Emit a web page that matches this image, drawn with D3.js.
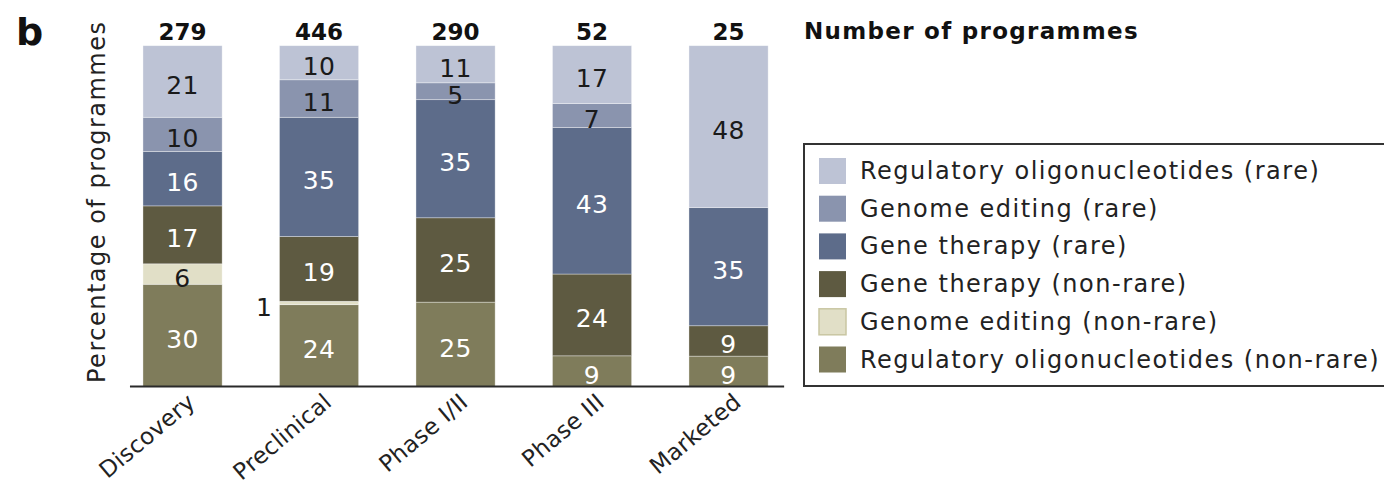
<!DOCTYPE html>
<html>
<head>
<meta charset="utf-8">
<script src="https://cdn.jsdelivr.net/npm/d3@7"></script>
<style>
  body { margin: 0; background: #fff; }
  svg { display: block; }
  text { font-family: "DejaVu Sans", sans-serif; }
</style>
</head>
<body>
<svg id="chart" width="1384" height="491"></svg>
<script>
// Development stages and total programme counts
const stages = ["Discovery", "Preclinical", "Phase I/II", "Phase III", "Marketed"];
const totals = [279, 446, 290, 52, 25];

// Percentage of programmes per modality (stacked bottom to top)
const regOligoNonRare      = [30, 24, 25, 9, 9];
const genomeEditingNonRare = [6, 1, 0, 0, 0];
const geneTherapyNonRare   = [17, 19, 25, 24, 9];
const geneTherapyRare      = [16, 35, 35, 43, 35];
const genomeEditingRare    = [10, 11, 5, 7, 0];
const regOligoRare         = [21, 10, 11, 17, 48];

const seriesKeys = ["regOligoNonRare", "genomeEditingNonRare", "geneTherapyNonRare",
                    "geneTherapyRare", "genomeEditingRare", "regOligoRare"];
const seriesLabels = {
  regOligoRare: "Regulatory oligonucleotides (rare)",
  genomeEditingRare: "Genome editing (rare)",
  geneTherapyRare: "Gene therapy (rare)",
  geneTherapyNonRare: "Gene therapy (non-rare)",
  genomeEditingNonRare: "Genome editing (non-rare)",
  regOligoNonRare: "Regulatory oligonucleotides (non-rare)"
};
const seriesValues = { regOligoNonRare, genomeEditingNonRare, geneTherapyNonRare,
                       geneTherapyRare, genomeEditingRare, regOligoRare };

const colors = {
  regOligoRare: "#bdc3d5",
  genomeEditingRare: "#8a94ae",
  geneTherapyRare: "#5d6c8a",
  geneTherapyNonRare: "#5e5a41",
  genomeEditingNonRare: "#e1dfc7",
  regOligoNonRare: "#7f7c5b"
};
const darkText = new Set(["regOligoRare", "genomeEditingRare", "genomeEditingNonRare"]);

const rows = stages.map((stage, i) => {
  const r = { stage };
  seriesKeys.forEach(k => { r[k] = seriesValues[k][i]; });
  return r;
});

const stacked = d3.stack().keys(seriesKeys).offset(d3.stackOffsetExpand)(rows);

const svg = d3.select("#chart");
const baseY = 386.5, topY = 45.7;

const x = d3.scaleBand().domain(stages).range([114.3, 796.8])
  .paddingInner(0.42).paddingOuter(0.21);
const y = d3.scaleLinear().domain([0, 1]).range([baseY, topY]);

const TXT = 24, LS = "1.5px";

// Panel letter
svg.append("text").attr("x", 16).attr("y", 45)
  .attr("font-size", 38).attr("font-weight", "bold").attr("fill", "#111").text("b");

// Y axis title
svg.append("text")
  .attr("transform", `translate(105,${(baseY + 17) / 2}) rotate(-90)`)
  .attr("text-anchor", "middle").attr("font-size", TXT).attr("letter-spacing", LS)
  .attr("fill", "#222").text("Percentage of programmes");

// Stacked segments
const layers = svg.append("g").selectAll("g").data(stacked).join("g")
  .attr("fill", d => colors[d.key]);

layers.selectAll("rect")
  .data(d => d.filter(p => p.data[d.key] > 0).map(p => ({ p, key: d.key })))
  .join("rect")
  .attr("x", d => x(d.p.data.stage))
  .attr("y", d => y(d.p[1]))
  .attr("width", x.bandwidth())
  .attr("height", d => y(d.p[0]) - y(d.p[1]))
  .attr("stroke", "#ffffff").attr("stroke-opacity", 0.5).attr("stroke-width", 0.7);

// Segment value labels
const labelG = svg.append("g").attr("font-size", 25).attr("letter-spacing", "0.5px");
stacked.forEach(layer => {
  layer.forEach(p => {
    const v = p.data[layer.key];
    if (v <= 0) return;
    const mid = (y(p[0]) + y(p[1])) / 2;
    const small = v < 3;
    labelG.append("text")
      .attr("x", small ? x(p.data.stage) - 7 : x(p.data.stage) + x.bandwidth() / 2)
      .attr("y", mid).attr("dy", "0.5em")
      .attr("text-anchor", small ? "end" : "middle")
      .attr("fill", small || darkText.has(layer.key) ? "#1a1a1a" : "#ffffff")
      .text(v);
  });
});

// Total counts above bars
svg.append("g").selectAll("text").data(stages).join("text")
  .attr("x", d => x(d) + x.bandwidth() / 2).attr("y", 40)
  .attr("text-anchor", "middle").attr("font-size", 23).attr("font-weight", "bold")
  .attr("fill", "#111").text((d, i) => totals[i]);

svg.append("text").attr("x", 804).attr("y", 39)
  .attr("font-size", 23).attr("font-weight", "bold").attr("letter-spacing", "1.3px")
  .attr("fill", "#111").text("Number of programmes");

// X axis
const xAxis = svg.append("g").attr("transform", `translate(0,${baseY})`)
  .call(d3.axisBottom(x).tickSize(0));
xAxis.select(".domain").remove();
xAxis.selectAll(".tick text")
  .attr("x", 0).attr("y", 0).attr("dy", 0)
  .attr("transform", "translate(14,18) rotate(-40)")
  .attr("text-anchor", "end").attr("font-size", 23).attr("letter-spacing", "0.3px")
  .attr("font-family", "DejaVu Sans, sans-serif").attr("fill", "#222");

svg.append("line")
  .attr("x1", x(stages[0]) - 13).attr("x2", x(stages[stages.length - 1]) + x.bandwidth() + 16)
  .attr("y1", baseY).attr("y2", baseY)
  .attr("stroke", "#2a2a2a").attr("stroke-width", 2);

// Legend
const legend = svg.append("g");
legend.append("rect").attr("x", 804).attr("y", 144).attr("width", 620).attr("height", 242)
  .attr("fill", "none").attr("stroke", "#333").attr("stroke-width", 2);
const legendKeys = seriesKeys.slice().reverse();
const item = legend.selectAll("g.item").data(legendKeys).join("g")
  .attr("class", "item")
  .attr("transform", (d, i) => `translate(819,${158 + i * 37.7})`);
item.append("rect").attr("width", 27).attr("height", 26)
  .attr("fill", d => colors[d])
  .attr("stroke", d => d === "genomeEditingNonRare" ? "#c9c6a2" : "none")
  .attr("stroke-width", 1.5);
item.append("text").attr("x", 41).attr("y", 21)
  .attr("font-size", TXT).attr("letter-spacing", LS).attr("fill", "#222")
  .text(d => seriesLabels[d]);
</script>
</body>
</html>
